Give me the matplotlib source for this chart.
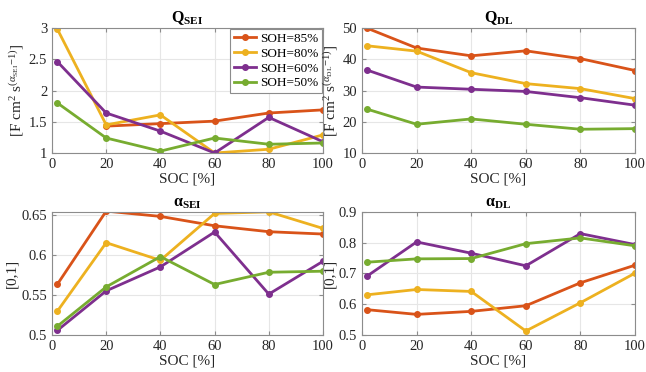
import numpy as np
import matplotlib
matplotlib.use('Agg')
from matplotlib import pyplot as plt

plt.rcParams['font.family'] = ['Liberation Serif', 'DejaVu Serif']
plt.rcParams['mathtext.fontset'] = 'custom'
plt.rcParams['mathtext.rm'] = 'Liberation Serif'
plt.rcParams['mathtext.it'] = 'Liberation Serif:italic'
plt.rcParams['mathtext.bf'] = 'Liberation Serif:bold'

# SOC puntos de medida
soc = [2, 20, 40, 60, 80, 100]
etiquetas = ['SOH=85%', 'SOH=80%', 'SOH=60%', 'SOH=50%']
colores = ['#D95319', '#EDB120', '#7E2F8E', '#77AC30']

# Q_SEI
q_sei_85 = [np.nan, 1.43, 1.47, 1.51, 1.64, 1.69]
q_sei_80 = [2.98, 1.45, 1.61, 1.00, 1.06, 1.29]
q_sei_60 = [2.46, 1.64, 1.35, 1.00, 1.57, 1.18]
q_sei_50 = [1.80, 1.24, 1.03, 1.24, 1.14, 1.16]

# Q_DL
q_dl_85 = [49.9, 43.6, 41.1, 42.7, 40.2, 36.4]
q_dl_80 = [44.3, 42.6, 35.7, 32.2, 30.6, 27.4]
q_dl_60 = [36.5, 31.1, 30.4, 29.7, 27.7, 25.3]
q_dl_50 = [24.0, 19.2, 20.9, 19.2, 17.6, 17.8]

# alpha_SEI
a_sei_85 = [0.5634, 0.6546, 0.648, 0.6363, 0.6289, 0.626]
a_sei_80 = [0.5298, 0.6152, 0.5932, 0.6517, 0.6537, 0.633]
a_sei_60 = [0.5058, 0.5551, 0.585, 0.6285, 0.551, 0.592]
a_sei_50 = [0.511, 0.560, 0.5978, 0.563, 0.5783, 0.5796]

# alpha_DL
a_dl_85 = [0.5822, 0.5670, 0.5768, 0.5951, 0.6697, 0.727]
a_dl_80 = [0.6308, 0.648, 0.6416, 0.513, 0.6049, 0.7011]
a_dl_60 = [0.6924, 0.8027, 0.766, 0.725, 0.8297, 0.794]
a_dl_50 = [0.7368, 0.7476, 0.7486, 0.797, 0.8157, 0.790]

fig = plt.figure(figsize=(6.46, 3.72), dpi=100)
ax1 = fig.add_axes([0.0805, 0.5887, 0.4195, 0.336])
ax2 = fig.add_axes([0.5604, 0.5887, 0.4226, 0.336])
ax3 = fig.add_axes([0.0805, 0.0995, 0.4195, 0.3306])
ax4 = fig.add_axes([0.5604, 0.0995, 0.4226, 0.3306])

def graficar(ax, series, titulo, ylab, ylim, yticks):
    for y, c, lab in zip(series, colores, etiquetas):
        ax.plot(soc, y, '-o', color=c, lw=2, ms=4, label=lab)
    ax.set_xlim(0, 100)
    ax.set_ylim(*ylim)
    ax.set_xticks([0, 20, 40, 60, 80, 100])
    ax.set_yticks(yticks)
    ax.set_yticklabels(['%g' % v for v in yticks])
    ax.grid(True, color='#e6e6e6', lw=0.8)
    ax.set_axisbelow(True)
    for s in ax.spines.values():
        s.set_color('#8c8c8c')
        s.set_linewidth(0.8)
    ax.tick_params(direction='in', length=3, colors='#8c8c8c', labelcolor='#262626',
                   labelsize=10.5, top=True, right=True)
    ax.set_title(titulo, fontsize=11.5, fontweight='bold', pad=4)
    ax.set_xlabel('SOC [%]', fontsize=11, color='#262626', labelpad=1)
    ax.set_ylabel(ylab, fontsize=11, color='#262626', labelpad=2)

graficar(ax1, [q_sei_85, q_sei_80, q_sei_60, q_sei_50], r'$\mathbf{Q_{SEI}}$',
         r'[F cm$^2$ s$^{(\alpha_{\rm SEI}\rm{-1})}$]', (1, 3), [1, 1.5, 2, 2.5, 3])
graficar(ax2, [q_dl_85, q_dl_80, q_dl_60, q_dl_50], r'$\mathbf{Q_{DL}}$',
         r'[F cm$^2$ s$^{(\alpha_{\rm DL}\rm{-1})}$]', (10, 50), [10, 20, 30, 40, 50])
graficar(ax3, [a_sei_85, a_sei_80, a_sei_60, a_sei_50], r'$\mathbf{\alpha_{SEI}}$',
         '[0,1]', (0.5, 0.6535), [0.5, 0.55, 0.6, 0.65])
graficar(ax4, [a_dl_85, a_dl_80, a_dl_60, a_dl_50], r'$\mathbf{\alpha_{DL}}$',
         '[0,1]', (0.5, 0.9), [0.5, 0.6, 0.7, 0.8, 0.9])

leg = ax1.legend(loc='upper right', fontsize=9.5, handlelength=1.7, borderpad=0.3,
                 labelspacing=0.2, handletextpad=0.3, fancybox=False, framealpha=1,
                 borderaxespad=0.05)
leg.get_frame().set_edgecolor('#8c8c8c')
leg.get_frame().set_linewidth(0.8)

plt.savefig('out.png', dpi=100)
